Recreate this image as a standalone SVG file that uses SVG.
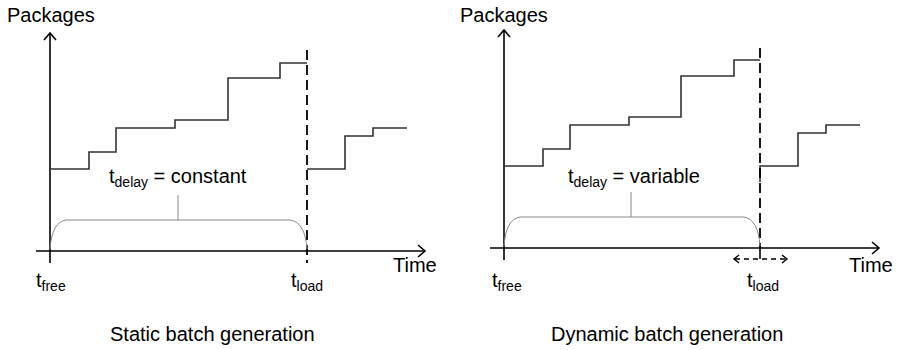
<svg xmlns="http://www.w3.org/2000/svg" width="897" height="350" viewBox="0 0 897 350">
<style>
text{font-family:"Liberation Sans",Arial,sans-serif;fill:#000}
.lbl{font-size:20px}
.sub{font-size:14px}
.axis{stroke:#000;stroke-width:1.6;fill:none}
.step{stroke:#333;stroke-width:1.6;fill:none}
.dash{stroke:#000;stroke-width:1.8;fill:none;stroke-dasharray:10 5}
.brace{stroke:#888;stroke-width:1;fill:none}
.chev{stroke:#000;stroke-width:1.6;fill:none}
</style>
<rect width="897" height="350" fill="#fff"/>

<g id="static-panel">
  <g id="static-axes">
    <line class="axis" x1="50" y1="34" x2="50" y2="263"/>
    <polyline class="chev" points="44,40 50,33 56,40"/>
    <line class="axis" x1="36" y1="251" x2="424" y2="251"/>
    <polyline class="chev" points="418,245 425,251 418,257"/>
  </g>
  <g id="static-steps">
    <polyline class="step" points="50,169 89,169 89,152 116,152 116,128 175,128 175,120 228,120 228,78 280,78 280,63 307,63"/>
    <polyline class="step" points="307,169 345,169 345,136 373,136 373,128 407,128"/>
  </g>
  <line id="static-load-line" class="dash" x1="307" y1="50" x2="307" y2="263"/>
  <g id="static-brace">
    <path class="brace" d="M50,249 Q52,222 66,220 L290,220 Q305,222 307,249"/>
    <line class="brace" x1="178" y1="195" x2="178" y2="220"/>
  </g>
  <g id="static-labels">
    <text class="lbl" x="7" y="22">Packages</text>
    <text class="lbl" x="393" y="272">Time</text>
    <text class="lbl" x="109" y="183">t<tspan class="sub" dy="4">delay</tspan><tspan dy="-4"> = constant</tspan></text>
    <text class="lbl" x="36" y="287">t<tspan class="sub" dy="4">free</tspan></text>
    <text class="lbl" x="291" y="287">t<tspan class="sub" dy="4">load</tspan></text>
    <text class="lbl" x="110" y="341">Static batch generation</text>
  </g>
</g>

<g id="dynamic-panel">
  <g id="dynamic-axes">
    <line class="axis" x1="504" y1="31" x2="504" y2="260"/>
    <polyline class="chev" points="498,37 504,30 510,37"/>
    <line class="axis" x1="490" y1="248" x2="878" y2="248"/>
    <polyline class="chev" points="872,242 879,248 872,254"/>
  </g>
  <g id="dynamic-steps">
    <polyline class="step" points="504,166 543,166 543,149 570,149 570,125 629,125 629,117 681,117 681,76 734,76 734,60 760,60"/>
    <polyline class="step" points="760,182 760,166 798,166 798,133 826,133 826,125 860,125"/>
  </g>
  <line id="dynamic-load-line" class="dash" x1="760" y1="48" x2="760" y2="248"/>
  <g id="dynamic-shift">
    <line class="axis" x1="760" y1="248" x2="760" y2="259"/>
    <line class="dash" style="stroke-dasharray:5 4;stroke-width:1.4" x1="735" y1="259" x2="786" y2="259"/>
    <polyline class="chev" style="stroke-width:1.4" points="739,255 734,259 739,263"/>
    <polyline class="chev" style="stroke-width:1.4" points="782,255 787,259 782,263"/>
  </g>
  <g id="dynamic-brace">
    <path class="brace" d="M504,246 Q506,219 520,217 L744,217 Q758,219 760,246"/>
    <line class="brace" x1="631" y1="192" x2="631" y2="217"/>
  </g>
  <g id="dynamic-labels">
    <text class="lbl" x="460" y="22">Packages</text>
    <text class="lbl" x="849" y="272">Time</text>
    <text class="lbl" x="568" y="183">t<tspan class="sub" dy="4">delay</tspan><tspan dy="-4"> = variable</tspan></text>
    <text class="lbl" x="492" y="287">t<tspan class="sub" dy="4">free</tspan></text>
    <text class="lbl" x="747" y="287">t<tspan class="sub" dy="4">load</tspan></text>
    <text class="lbl" x="551" y="341">Dynamic batch generation</text>
  </g>
</g>
</svg>
